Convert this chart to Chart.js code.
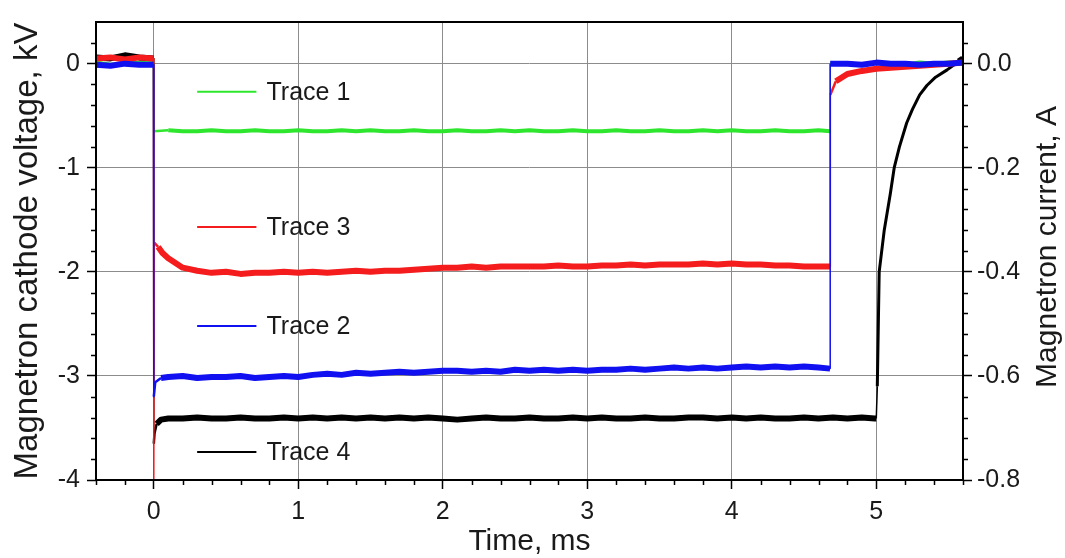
<!DOCTYPE html>
<html>
<head>
<meta charset="utf-8">
<title>Magnetron traces</title>
<script src="https://cdn.jsdelivr.net/npm/chart.js@4.4.1/dist/chart.umd.min.js"></script>
<style>
  html, body { margin: 0; padding: 0; background: #fff; }
</style>
</head>
<body>
<canvas id="myChart" width="1065" height="558"></canvas>
<script>
// tick labels
const timeTicks = [0, 1, 2, 3, 4, 5];
const voltTicks = [-4, -3, -2, -1, 0];
const currentTicks = [-0.8, -0.6, -0.4, -0.2, 0.0];

// time base, ms
const tPre = [-0.4, -0.3, -0.2, -0.1, -0.002];
const tBody = [
  0.1, 0.2, 0.3, 0.4, 0.5, 0.6, 0.7, 0.8, 0.9, 1.0,
  1.1, 1.2, 1.3, 1.4, 1.5, 1.6, 1.7, 1.8, 1.9, 2.0,
  2.1, 2.2, 2.3, 2.4, 2.5, 2.6, 2.7, 2.8, 2.9, 3.0,
  3.1, 3.2, 3.3, 3.4, 3.5, 3.6, 3.7, 3.8, 3.9, 4.0,
  4.1, 4.2, 4.3, 4.4, 4.5, 4.6,
];
const tPost = [4.8, 4.9, 5.0, 5.1, 5.2, 5.3, 5.4, 5.5, 5.6];

// Trace 1 (green), kV
const trace1Time = [].concat(tPre, [0], tBody, [4.68, 4.681], tPost);
const trace1Volt = [
  0.01, -0.01, 0.0, 0.01, 0.0,
  -0.65,
  -0.64, -0.65, -0.65, -0.64, -0.65, -0.65, -0.64, -0.65, -0.65, -0.64,
  -0.65, -0.65, -0.64, -0.65, -0.64, -0.65, -0.65, -0.64, -0.65, -0.65,
  -0.64, -0.65, -0.65, -0.64, -0.65, -0.64, -0.65, -0.65, -0.64, -0.65,
  -0.65, -0.64, -0.65, -0.65, -0.64, -0.65, -0.65, -0.64, -0.65, -0.64,
  -0.65, -0.65, -0.64, -0.65, -0.65, -0.64,
  -0.65, 0.0,
  0.0, -0.01, 0.01, 0.0, -0.01, 0.01, 0.0, 0.01, 0.0,
];

// Trace 2 (blue)
const trace2Time = [].concat(tPre, [0, 0.01, 0.05], tBody, [4.68, 4.681], tPost);
const trace2Volt = [
  -0.01, -0.02, 0.0, -0.01, -0.01,
  -3.2, -3.06, -3.02,
  -3.01, -3.0, -3.02, -3.01, -3.01, -3.0, -3.02, -3.01, -3.0, -3.01,
  -2.99, -2.98, -2.99, -2.97, -2.98, -2.97, -2.96, -2.97, -2.96, -2.95,
  -2.95, -2.96, -2.95, -2.96, -2.94, -2.95, -2.94, -2.95, -2.94, -2.95,
  -2.94, -2.94, -2.93, -2.94, -2.93, -2.92, -2.93, -2.92, -2.93, -2.92,
  -2.91, -2.92, -2.91, -2.92, -2.91, -2.92,
  -2.93, 0.0,
  0.0, -0.01, 0.01, 0.0, 0.0, -0.01, 0.0, 0.0, 0.01,
];

// Trace 3 (red)
const trace3Time = [].concat(tPre, [0, 0.003, 0.03, 0.06], tBody, [4.68, 4.682, 4.72], tPost);
const trace3Volt = [
  0.05, 0.06, 0.04, 0.06, 0.05,
  -4.0, -1.72, -1.76, -1.82,
  -1.87, -1.96, -1.99, -2.01, -2.0, -2.02, -2.01, -2.01, -2.0, -2.01,
  -2.0, -2.01, -2.0, -1.99, -2.0, -1.99, -1.99, -1.98, -1.97, -1.96,
  -1.96, -1.95, -1.96, -1.95, -1.95, -1.95, -1.95, -1.94, -1.95, -1.95,
  -1.94, -1.94, -1.93, -1.94, -1.93, -1.93, -1.93, -1.92, -1.93, -1.92,
  -1.93, -1.93, -1.94, -1.94, -1.95, -1.95,
  -1.95, -0.3, -0.17,
  -0.1, -0.07, -0.05, -0.04, -0.03, -0.02, -0.01, 0.0, 0.01,
];

// Trace 4 (black)
const trace4Time = [].concat(tPre, [0, 0.005, 0.02, 0.05], tBody, [
  4.7, 4.8, 4.9, 4.99, 5.0, 5.007, 5.02, 5.055, 5.097, 5.124,
  5.16, 5.21, 5.25, 5.3, 5.35, 5.41, 5.49, 5.57, 5.6,
]);
const trace4Volt = [
  0.06, 0.05, 0.08, 0.06, 0.05,
  -3.65, -3.55, -3.46, -3.42,
  -3.41, -3.41, -3.4, -3.41, -3.41, -3.4, -3.41, -3.41, -3.4, -3.41,
  -3.4, -3.41, -3.4, -3.41, -3.4, -3.41, -3.4, -3.41, -3.4, -3.41,
  -3.42, -3.41, -3.4, -3.41, -3.41, -3.4, -3.41, -3.41, -3.4, -3.41,
  -3.4, -3.41, -3.41, -3.4, -3.41, -3.41, -3.4, -3.4, -3.41, -3.4,
  -3.41, -3.4, -3.41, -3.41, -3.4, -3.41,
  -3.4, -3.41, -3.4, -3.41, -3.41, -3.1, -2.0, -1.6, -1.25, -1.0,
  -0.8, -0.57, -0.44, -0.3, -0.21, -0.13, -0.06, 0.02, 0.05,
];

const FONT = "'Liberation Sans', Arial, sans-serif";
const TEXT = "#1a1a1a";

function toPoints(times, values) {
  return times.map(function (t, i) {
    return { x: t, y: values[i] };
  });
}

// switching edges are thin, the noisy plateaus are drawn as a thick band
function segWidth(band) {
  return function (c) {
    const x0 = c.p0.parsed.x;
    const dx = c.p1.parsed.x - x0;
    const dy = Math.abs(c.p1.parsed.y - c.p0.parsed.y);
    if (dx < 0.01 && dy > 0.3) return 1.5;
    if ((x0 >= 0 && x0 < 0.02) || (x0 >= 4.682 && x0 < 4.7)) return 2.5;
    if (x0 >= 4.99 && dy > 0.05) return 3;
    return band;
  };
}

// frame, minor ticks, right title and the in-plot legend
const extrasPlugin = {
  id: "extras",
  afterDraw(chart, args, opts) {
    const { ctx, chartArea: a, scales } = chart;
    ctx.save();
    ctx.strokeStyle = "#000";
    ctx.lineWidth = 1.5;
    ctx.beginPath();
    for (let i = -2; i <= 28; i++) {
      if (i % 5 === 0) continue;
      const px = Math.round(scales.x.getPixelForValue(i * 0.2)) + 0.5;
      ctx.moveTo(px, a.bottom);
      ctx.lineTo(px, a.bottom + 5);
    }
    for (let i = -19; i <= 1; i++) {
      if (i % 5 === 0) continue;
      const py = Math.round(scales.y.getPixelForValue(i * 0.2)) + 0.5;
      ctx.moveTo(a.left - 5, py);
      ctx.lineTo(a.left, py);
      const py1 = Math.round(scales.y1.getPixelForValue(i * 0.04)) + 0.5;
      ctx.moveTo(a.right, py1);
      ctx.lineTo(a.right + 5, py1);
    }
    ctx.stroke();
    ctx.lineWidth = 2;
    ctx.strokeRect(a.left, a.top, a.right - a.left, a.bottom - a.top);

    // right axis title, reading bottom to top like the left one
    ctx.save();
    ctx.translate(chart.width - 17, (a.top + a.bottom) / 2 - 4);
    ctx.rotate(-Math.PI / 2);
    ctx.font = "30px " + FONT;
    ctx.fillStyle = TEXT;
    ctx.textAlign = "center";
    ctx.textBaseline = "middle";
    ctx.fillText(opts.rightTitle, 0, 0);
    ctx.restore();

    // legend rows
    ctx.font = "25px " + FONT;
    ctx.textBaseline = "middle";
    ctx.textAlign = "left";
    opts.rows.forEach(function (row) {
      const ds = chart.data.datasets[row.dataset];
      const y = scales.y.getPixelForValue(row.y);
      ctx.strokeStyle = ds.borderColor;
      ctx.lineWidth = 2;
      ctx.beginPath();
      ctx.moveTo(scales.x.getPixelForValue(opts.lineFrom), y);
      ctx.lineTo(scales.x.getPixelForValue(opts.lineTo), y);
      ctx.stroke();
      ctx.fillStyle = TEXT;
      ctx.fillText(ds.label, scales.x.getPixelForValue(opts.textAt), y + 1);
    });
    ctx.restore();
  },
};

const ctx = document.getElementById("myChart");
new Chart(ctx, {
  type: "line",
  data: {
    datasets: [
      {
        label: "Trace 1",
        data: toPoints(trace1Time, trace1Volt),
        borderColor: "#2ee62e",
        borderWidth: 4,
        segment: { borderWidth: segWidth(4) },
        order: 3,
      },
      {
        label: "Trace 2",
        data: toPoints(trace2Time, trace2Volt),
        borderColor: "#1010f0",
        borderWidth: 6,
        segment: { borderWidth: segWidth(6) },
        order: 0,
      },
      {
        label: "Trace 3",
        data: toPoints(trace3Time, trace3Volt),
        borderColor: "#f41c1c",
        borderWidth: 6,
        segment: { borderWidth: segWidth(6) },
        order: 1,
      },
      {
        label: "Trace 4",
        data: toPoints(trace4Time, trace4Volt),
        borderColor: "#000000",
        borderWidth: 6,
        segment: { borderWidth: segWidth(6) },
        order: 2,
      },
    ],
  },
  options: {
    responsive: false,
    animation: false,
    devicePixelRatio: 1,
    elements: {
      point: { radius: 0 },
      line: { tension: 0, fill: false, borderJoinStyle: "round" },
    },
    layout: { padding: { top: 11, left: 0, right: 0, bottom: 0 } },
    plugins: {
      legend: { display: false },
      tooltip: { enabled: false },
      extras: {
        rightTitle: "Magnetron current, A",
        lineFrom: 0.3,
        lineTo: 0.71,
        textAt: 0.78,
        rows: [
          { dataset: 0, y: -0.27 },
          { dataset: 2, y: -1.57 },
          { dataset: 1, y: -2.52 },
          { dataset: 3, y: -3.73 },
        ],
      },
    },
    scales: {
      x: {
        type: "linear",
        min: -0.4,
        max: 5.6,
        afterBuildTicks: function (s) {
          s.ticks = timeTicks.map((v) => ({ value: v }));
        },
        afterFit: function (s) {
          s.height = 78;
        },
        grid: { color: "#8c8c8c", lineWidth: 1, tickColor: "#000", tickLength: 9, tickWidth: 1.5 },
        border: { display: false },
        ticks: { color: TEXT, font: { family: FONT, size: 25 }, padding: 8, maxRotation: 0 },
        title: {
          display: true,
          text: "Time, ms",
          color: TEXT,
          font: { family: FONT, size: 30, lineHeight: 1.1 },
          padding: 0,
        },
      },
      y: {
        type: "linear",
        position: "left",
        min: -4,
        max: 0.4,
        afterBuildTicks: function (s) {
          s.ticks = voltTicks.map((v) => ({ value: v }));
        },
        afterFit: function (s) {
          s.width = 96;
        },
        grid: { color: "#8c8c8c", lineWidth: 1, tickColor: "#000", tickLength: 9, tickWidth: 1.5 },
        border: { display: false },
        ticks: {
          color: TEXT,
          font: { family: FONT, size: 25 },
          padding: 7,
          callback: (v) => String(v),
        },
        title: {
          display: true,
          text: "Magnetron cathode voltage, kV",
          color: TEXT,
          font: { family: FONT, size: 33, lineHeight: 1.2 },
          padding: { top: 8, bottom: 0 },
        },
      },
      y1: {
        type: "linear",
        position: "right",
        min: -0.8,
        max: 0.08,
        afterBuildTicks: function (s) {
          s.ticks = currentTicks.map((v) => ({ value: v }));
        },
        afterFit: function (s) {
          s.width = 102;
        },
        grid: { drawOnChartArea: false, tickColor: "#000", tickLength: 9, tickWidth: 1.5 },
        border: { display: false },
        ticks: {
          color: TEXT,
          font: { family: FONT, size: 25 },
          padding: 5,
          callback: (v) => v.toFixed(1),
        },
        title: { display: false },
      },
    },
  },
  plugins: [extrasPlugin],
});
</script>
</body>
</html>
